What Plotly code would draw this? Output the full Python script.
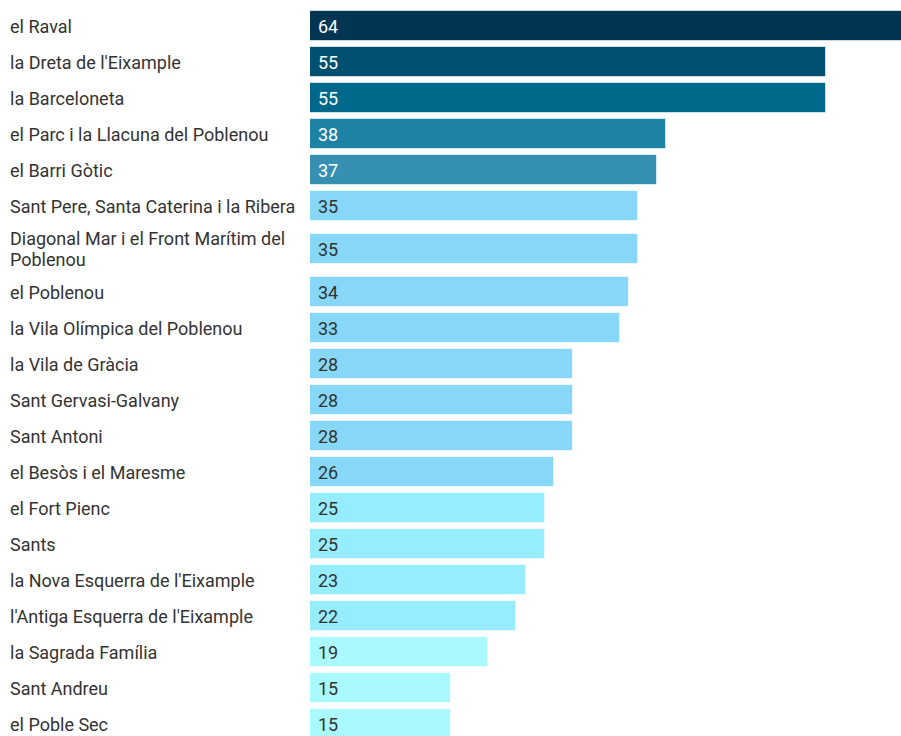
import plotly.graph_objects as go

neighbourhoods = [
    "el Raval",
    "la Dreta de l'Eixample",
    "la Barceloneta",
    "el Parc i la Llacuna del Poblenou",
    "el Barri Gòtic",
    "Sant Pere, Santa Caterina i la Ribera",
    "Diagonal Mar i el Front Marítim del<br>Poblenou",
    "el Poblenou",
    "la Vila Olímpica del Poblenou",
    "la Vila de Gràcia",
    "Sant Gervasi-Galvany",
    "Sant Antoni",
    "el Besòs i el Maresme",
    "el Fort Pienc",
    "Sants",
    "la Nova Esquerra de l'Eixample",
    "l'Antiga Esquerra de l'Eixample",
    "la Sagrada Família",
    "Sant Andreu",
    "el Poble Sec",
]
values = [64, 55, 55, 38, 37, 35, 35, 34, 33, 28, 28, 28, 26, 25, 25, 23, 22, 19, 15, 15]

colors = ["#023552", "#00506F", "#00688A", "#1E82A4", "#3590B2",
          "#87D8F8", "#87D8F8", "#87D8F8", "#87D8F8", "#87D8F8", "#87D8F8", "#87D8F8", "#87D8F8",
          "#95EDFF", "#95EDFF", "#95EDFF", "#95EDFF",
          "#AAF9FF", "#AAF9FF", "#AAF9FF"]
text_colors = ["#FFFFFF"] * 5 + ["#333333"] * 15

# layout: rows stacked from top, row height grows with label line count
TOP = 8
BASE_ROW = 36
EXTRA_PER_LINE = 14
LINE_H = 21
centers = []
cur = TOP
for lab in neighbourhoods:
    n = lab.count("<br>") + 1
    h = BASE_ROW + EXTRA_PER_LINE * (n - 1)
    centers.append(cur + h / 2)
    cur += h

W, H = 901, 736
x0 = 310
px_per_unit = 9.38
xmax = (W - x0) / px_per_unit

fig = go.Figure()
fig.add_trace(go.Bar(
    x=values, y=centers, orientation="h", width=30,
    marker=dict(color=colors, line=dict(color="rgba(255,255,255,0.6)", width=1)),
    hoverinfo="skip", showlegend=False,
))

FONT = "Roboto"
annotations = []
for lab, c, v, tc in zip(neighbourhoods, centers, values, text_colors):
    lines = lab.split("<br>")
    n = len(lines)
    for k, line in enumerate(lines):
        yy = c + (k - (n - 1) / 2) * LINE_H
        annotations.append(dict(
            x=8 / W, xref="paper", y=yy, yref="y", text=line, showarrow=False,
            xanchor="left", yanchor="middle", align="left",
            font=dict(family=FONT, size=18, color="#333333"),
        ))
    annotations.append(dict(
        x=0, xref="x", y=c, yref="y", text=str(v), showarrow=False,
        xanchor="left", yanchor="middle", xshift=6,
        font=dict(family=FONT, size=18, color=tc),
    ))

fig.update_layout(
    width=W, height=H,
    margin=dict(l=0, r=0, t=0, b=0),
    paper_bgcolor="white", plot_bgcolor="white",
    xaxis=dict(domain=[x0 / W, 1], range=[0, xmax], visible=False, fixedrange=True),
    yaxis=dict(range=[H, 0], visible=False, fixedrange=True),
    annotations=annotations,
    bargap=0,
)

fig.write_html("out.html", config={"displayModeBar": False},
               post_script="document.body.style.margin='0';document.body.style.overflow='hidden';")
